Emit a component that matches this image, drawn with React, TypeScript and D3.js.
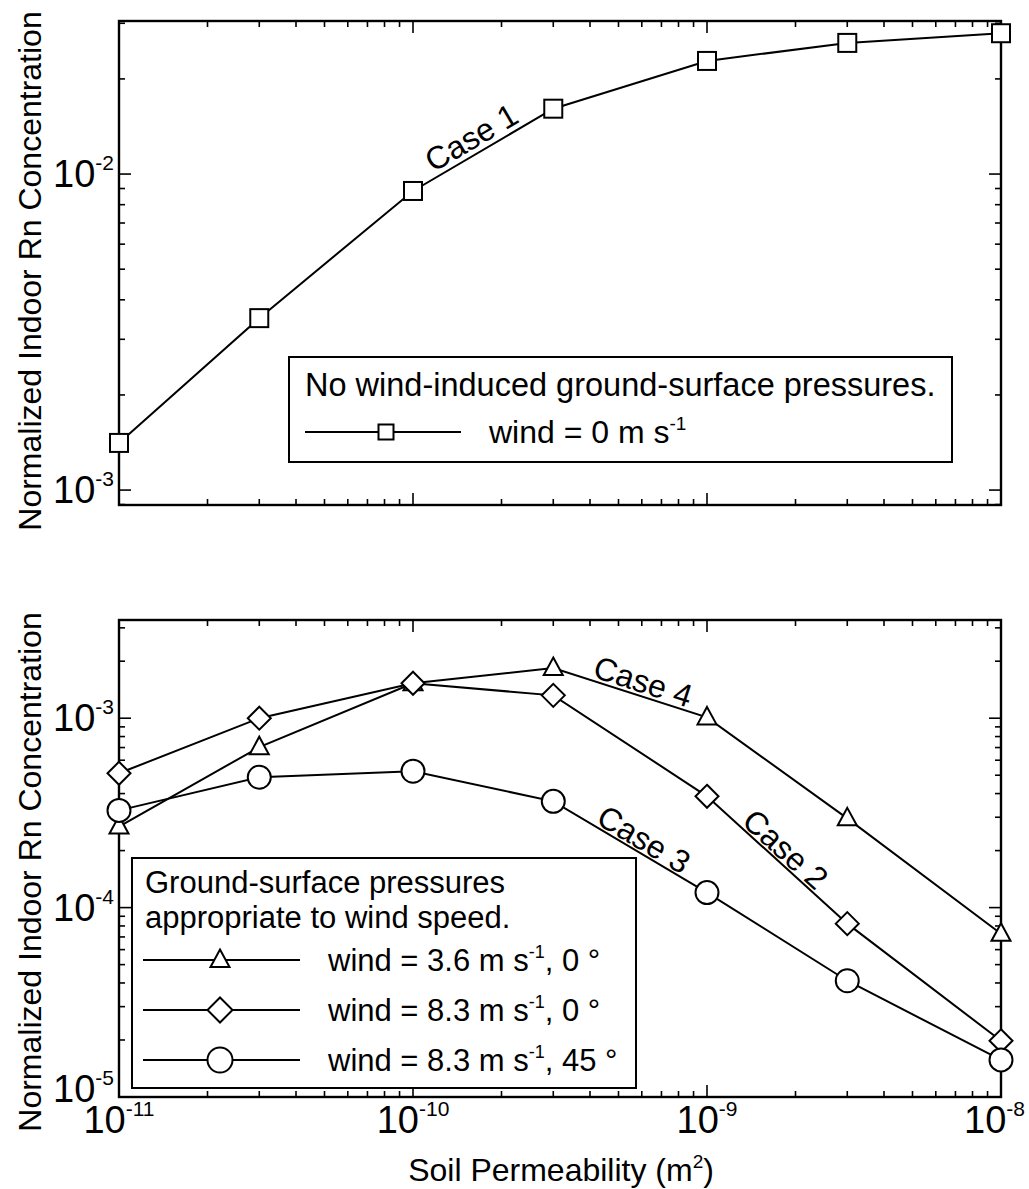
import React from "react";
import * as d3 from "d3";

// ---------- data ----------
const permeability = [1e-11, 3e-11, 1e-10, 3e-10, 1e-9, 3e-9, 1e-8];
const case1Wind0 = [1.41e-3, 3.5e-3, 8.84e-3, 1.61e-2, 2.28e-2, 2.6e-2, 2.79e-2];
const case4Wind36 = [2.68e-4, 7.03e-4, 1.53e-3, 1.84e-3, 1.01e-3, 2.96e-4, 7.28e-5];
const case2Wind83 = [5.12e-4, 1.0e-3, 1.53e-3, 1.32e-3, 3.87e-4, 8.23e-5, 1.98e-5];
const case3Wind83At45 = [3.26e-4, 4.88e-4, 5.25e-4, 3.64e-4, 1.2e-4, 4.11e-5, 1.57e-5];

const xDomain = [1e-11, 1e-8];
const topYDomain = [8.97e-4, 3.05e-2];
const bottomYDomain = [1e-5, 3.3e-3];

const xTickLabels = [1e-11, 1e-10, 1e-9, 1e-8];
const topYTickLabels = [1e-3, 1e-2];
const bottomYTickLabels = [1e-5, 1e-4, 1e-3];

const yTitle = "Normalized Indoor Rn Concentration";
const xTitle = "Soil Permeability (m";
const topLegendTitle = ["No wind-induced ground-surface pressures."];
const bottomLegendTitle = ["Ground-surface pressures", "appropriate to wind speed."];
const topLegendEntries = [{ pre: "wind = 0 m s", post: "" }];
const bottomLegendEntries = [
  { pre: "wind = 3.6 m s", post: ", 0 \u00B0", symbol: "triangle" },
  { pre: "wind = 8.3 m s", post: ", 0 \u00B0", symbol: "diamond" },
  { pre: "wind = 8.3 m s", post: ", 45 \u00B0", symbol: "circle" },
];

// ---------- layout ----------
const W = 1029;
const H = 1189;
const FONT = "'Liberation Sans', Arial, Helvetica, sans-serif";
const LEFT = 119;
const RIGHT = 1001;
const TOP_PANEL = { top: 21, bottom: 505 };
const BOT_PANEL = { top: 620, bottom: 1097 };
const TICK_FS = 38;
const SUP_FS = 21;

const xScale = d3.scaleLog().domain(xDomain).range([LEFT, RIGHT]);
const yTop = d3.scaleLog().domain(topYDomain).range([TOP_PANEL.bottom, TOP_PANEL.top]);
const yBot = d3.scaleLog().domain(bottomYDomain).range([BOT_PANEL.bottom, BOT_PANEL.top]);

const isMajor = (v: number) => Math.abs(Math.log10(v) - Math.round(Math.log10(v))) < 1e-6;
const expOf = (v: number) => String(Math.round(Math.log10(v)));

function Marker({ type, x, y, s }: { type: string; x: number; y: number; s: number }) {
  const common = { fill: "white", stroke: "black", strokeWidth: 2 };
  if (type === "square") {
    return <rect x={x - s / 2} y={y - s / 2} width={s} height={s} {...common} />;
  }
  if (type === "circle") {
    return <circle cx={x} cy={y} r={s / 2} {...common} />;
  }
  if (type === "diamond") {
    const r = s / 2;
    return <path d={`M${x},${y - r}L${x + r},${y}L${x},${y + r}L${x - r},${y}Z`} {...common} />;
  }
  const w = s;
  const h = s * 0.92;
  return (
    <path
      d={`M${x},${y - h * 0.6}L${x + w / 2},${y + h * 0.4}L${x - w / 2},${y + h * 0.4}Z`}
      {...common}
    />
  );
}

function Pow({ x, y, v, anchor }: { x: number; y: number; v: number; anchor: string }) {
  return (
    <text x={x} y={y} textAnchor={anchor as any} fontSize={TICK_FS} fontFamily={FONT}>
      <tspan>10</tspan>
      <tspan dy={-TICK_FS * 0.45} fontSize={SUP_FS}>{expOf(v)}</tspan>
    </text>
  );
}

function Frame({ yScale, top, bottom }: { yScale: any; top: number; bottom: number }) {
  const yt = yScale.ticks();
  const xt = xScale.ticks();
  const MJ = 12;
  const MN = 6;
  return (
    <g stroke="black" strokeWidth={1.6}>
      <rect x={LEFT} y={top} width={RIGHT - LEFT} height={bottom - top} fill="none" strokeWidth={2.4} />
      {yt.map((t: number, i: number) => {
        const y = yScale(t);
        const l = isMajor(t) ? MJ : MN;
        return (
          <g key={"y" + i}>
            <line x1={LEFT} x2={LEFT + l} y1={y} y2={y} />
            <line x1={RIGHT} x2={RIGHT - l} y1={y} y2={y} />
          </g>
        );
      })}
      {xt.map((t: number, i: number) => {
        const x = xScale(t);
        const l = isMajor(t) ? MJ : MN;
        return (
          <g key={"x" + i}>
            <line x1={x} x2={x} y1={bottom} y2={bottom - l} />
            <line x1={x} x2={x} y1={top} y2={top + l} />
          </g>
        );
      })}
    </g>
  );
}

function Series({ values, yScale, symbol, size }: { values: number[]; yScale: any; symbol: string; size: number }) {
  const line = d3
    .line<number>()
    .x((_, i) => xScale(permeability[i]))
    .y((d) => yScale(d));
  return (
    <g>
      <path d={line(values) || ""} fill="none" stroke="black" strokeWidth={2} />
      {values.map((v, i) => (
        <Marker key={i} type={symbol} x={xScale(permeability[i])} y={yScale(v)} s={size} />
      ))}
    </g>
  );
}

function CaseLabel({ values, yScale, seg, text, off, along }: { values: number[]; yScale: any; seg: number; text: string; off: number; along: number }) {
  const x1 = xScale(permeability[seg]);
  const y1 = yScale(values[seg]);
  const x2 = xScale(permeability[seg + 1]);
  const y2 = yScale(values[seg + 1]);
  const a = Math.atan2(y2 - y1, x2 - x1);
  const dx = Math.cos(a);
  const dy = Math.sin(a);
  const nx = dy;
  const ny = -dx;
  const cx = (x1 + x2) / 2 + nx * off + dx * along;
  const cy = (y1 + y2) / 2 + ny * off + dy * along;
  return (
    <text
      transform={`translate(${cx},${cy}) rotate(${(a * 180) / Math.PI})`}
      textAnchor="middle"
      dy="0.36em"
      fontSize={32}
      fontFamily={FONT}
    >
      {text}
    </text>
  );
}

export default function App() {
  const tlBox = { x: 289, y: 357, w: 663, h: 105 };
  const blBox = { x: 132, y: 858, w: 504, h: 230 };
  const yLabelY = (scale: any, v: number, bottom: number) => Math.min(scale(v) + 13, bottom + 5);
  const powWidth = 1.112 * TICK_FS + 0.889 * SUP_FS;
  const xLabelX = (v: number) => Math.min(xScale(v), W - 4 - powWidth / 2);
  return (
    <svg
      width={W}
      height={H}
      viewBox={`0 0 ${W} ${H}`}
      style={{ position: "absolute", left: 0, top: 0, background: "white" }}
    >
      <rect x={0} y={0} width={W} height={H} fill="white" />

      {/* ---------- top panel ---------- */}
      <Frame yScale={yTop} top={TOP_PANEL.top} bottom={TOP_PANEL.bottom} />
      {topYTickLabels.map((v) => (
        <Pow key={v} x={114} y={yLabelY(yTop, v, TOP_PANEL.bottom)} v={v} anchor="end" />
      ))}
      <text
        transform={`translate(41,${271}) rotate(-90)`}
        textAnchor="middle"
        fontSize={32}
        fontFamily={FONT}
      >
        {yTitle}
      </text>
      <Series values={case1Wind0} yScale={yTop} symbol="square" size={18} />
      <CaseLabel values={case1Wind0} yScale={yTop} seg={2} text="Case 1" off={17} along={-4} />

      <rect x={tlBox.x} y={tlBox.y} width={tlBox.w} height={tlBox.h} fill="white" stroke="black" strokeWidth={2} />
      <text x={305} y={396} fontSize={32.5} fontFamily={FONT}>
        {topLegendTitle[0]}
      </text>
      <line x1={305} x2={461} y1={432} y2={432} stroke="black" strokeWidth={2} />
      <Marker type="square" x={386} y={432} s={15} />
      <text x={489} y={443} fontSize={32} fontFamily={FONT}>
        <tspan>{topLegendEntries[0].pre}</tspan>
        <tspan dy={-13} fontSize={19}>-1</tspan>
      </text>

      {/* ---------- bottom panel ---------- */}
      <Frame yScale={yBot} top={BOT_PANEL.top} bottom={BOT_PANEL.bottom} />
      {bottomYTickLabels.map((v) => (
        <Pow key={v} x={114} y={yLabelY(yBot, v, BOT_PANEL.bottom)} v={v} anchor="end" />
      ))}
      {xTickLabels.map((v) => (
        <Pow key={v} x={xLabelX(v)} y={1133} v={v} anchor="middle" />
      ))}
      <text
        transform={`translate(41,${872}) rotate(-90)`}
        textAnchor="middle"
        fontSize={32}
        fontFamily={FONT}
      >
        {yTitle}
      </text>
      <text x={561} y={1181} textAnchor="middle" fontSize={32} fontFamily={FONT}>
        <tspan>{xTitle}</tspan>
        <tspan dy={-13} fontSize={19}>2</tspan>
        <tspan dy={13}>)</tspan>
      </text>

      <Series values={case4Wind36} yScale={yBot} symbol="triangle" size={19} />
      <Series values={case2Wind83} yScale={yBot} symbol="diamond" size={23} />
      <Series values={case3Wind83At45} yScale={yBot} symbol="circle" size={23} />
      <CaseLabel values={case4Wind36} yScale={yBot} seg={3} text="Case 4" off={15} along={9} />
      <CaseLabel values={case2Wind83} yScale={yBot} seg={4} text="Case 2" off={14} along={-1} />
      <CaseLabel values={case3Wind83At45} yScale={yBot} seg={3} text="Case 3" off={14} along={8} />

      <rect x={blBox.x} y={blBox.y} width={blBox.w} height={blBox.h} fill="white" stroke="black" strokeWidth={2} />
      {bottomLegendTitle.map((t, i) => (
        <text key={t} x={145} y={893 + i * 35} fontSize={31} fontFamily={FONT}>
          {t}
        </text>
      ))}
      {bottomLegendEntries.map((e, i) => {
        const y = 960 + i * 50;
        return (
          <g key={i}>
            <line x1={143} x2={300} y1={y} y2={y} stroke="black" strokeWidth={2} />
            <Marker type={e.symbol} x={220} y={y} s={e.symbol === "triangle" ? 19 : 25} />
            <text x={328} y={y + 11} fontSize={31} fontFamily={FONT}>
              <tspan>{e.pre}</tspan>
              <tspan dy={-13} fontSize={18}>-1</tspan>
              <tspan dy={13}>{e.post}</tspan>
            </text>
          </g>
        );
      })}
    </svg>
  );
}
